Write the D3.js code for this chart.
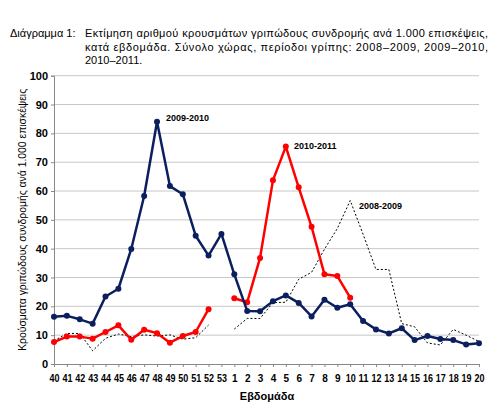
<!DOCTYPE html>
<html>
<head>
<meta charset="utf-8">
<script src="https://cdn.jsdelivr.net/npm/d3@7"></script>
<style>
  body { margin: 0; background: #fff; }
  svg { display: block; font-family: Arial, "Liberation Sans", sans-serif; }
</style>
</head>
<body>
<div id="chart"></div>
<script>
// Weeks of the flu season (40..53, then 1..20)
const weeks = ['40','41','42','43','44','45','46','47','48','49','50','51','52','53',
  '1','2','3','4','5','6','7','8','9','10','11','12','13','14','15','16','17','18','19','20'];

const season0809 = [8.0, 10.6, 10.6, 4.6, 8.9, 10.4, 9.5, 10.1, 9.7, 10.1, 8.6, 9.1, 13.5, null,
  12.1, 15.8, 15.8, 21.3, 21.4, 29.4, 31.8, 39.8, 47.0, 56.7, 45.0, 32.8, 32.8, 14.0, 12.9, 7.3, 6.6, 12.0, 10.0, 7.8];

const season0910 = [16.4, 16.7, 15.5, 14.0, 23.4, 26.1, 39.9, 58.3, 84.0, 61.7, 58.9, 44.5, 37.6, 45.1,
  31.1, 18.4, 18.3, 21.8, 23.8, 21.2, 16.5, 22.3, 19.5, 20.7, 14.9, 12.0, 10.6, 12.4, 8.3, 9.7, 8.7, 8.3, 6.8, 7.2];

const season1011 = [7.6, 9.5, 9.5, 8.8, 11.1, 13.4, 8.4, 11.9, 10.7, 7.4, 9.7, 11.1, 19.0, null,
  22.8, 21.4, 36.8, 63.7, 75.4, 61.3, 47.6, 31.1, 30.5, 23.0, null, null, null, null, null, null, null, null, null, null];

const yTicks = [0, 10, 20, 30, 40, 50, 60, 70, 80, 90, 100];

const titleLines = [
  'Εκτίμηση αριθμού κρουσμάτων γριπώδους συνδρομής ανά 1.000 επισκέψεις,',
  'κατά εβδομάδα. Σύνολο χώρας, περίοδοι γρίπης: 2008–2009, 2009–2010,',
  '2010–2011.'
];

const width = 500, height = 410;
const plotLeft = 54, plotRight = 479, plotTop = 75.7, plotBottom = 364;

const svg = d3.select('#chart').append('svg')
  .attr('width', width).attr('height', height);

// Title
svg.append('text').attr('x', 10).attr('y', 37).attr('font-size', 11).text('Διάγραμμα 1:');
titleLines.forEach((t, i) => {
  const txt = svg.append('text').attr('x', 85).attr('y', 37 + i * 13.5)
    .attr('font-size', 11).text(t);
  if (i < 2) txt.attr('textLength', 403).attr('lengthAdjust', 'spacing');
});

const x = d3.scalePoint().domain(weeks).range([plotLeft, plotRight]);
const y = d3.scaleLinear().domain([0, 100]).range([plotBottom, plotTop]);

// Gridlines
svg.append('g').selectAll('line').data(yTicks.filter(d => d > 0)).enter()
  .append('line')
  .attr('x1', plotLeft).attr('x2', plotRight)
  .attr('y1', d => y(d)).attr('y2', d => y(d))
  .attr('stroke', '#c8c8c8').attr('stroke-width', 1);

// Y axis
const yAxis = svg.append('g').attr('transform', `translate(${plotLeft},0)`)
  .call(d3.axisLeft(y).tickValues(yTicks).tickSize(3).tickPadding(3));
yAxis.select('.domain').attr('stroke', '#888');
yAxis.selectAll('.tick line').attr('stroke', '#888');
yAxis.selectAll('.tick text').attr('font-size', 11).attr('font-weight', 'bold')
  .attr('font-family', 'Arial, "Liberation Sans", sans-serif').attr('fill', '#000');

// X axis
const xAxis = svg.append('g').attr('transform', `translate(0,${plotBottom})`)
  .call(d3.axisBottom(x).tickSize(3).tickPadding(8).tickSizeOuter(0));
xAxis.select('.domain').attr('stroke', '#888');
xAxis.selectAll('.tick line').attr('stroke', '#888');
xAxis.selectAll('.tick text').attr('font-size', 10).attr('font-weight', 'bold')
  .attr('font-family', 'Arial, "Liberation Sans", sans-serif').attr('fill', '#000')
  .each(function (d) { if (d.length === 2) d3.select(this).attr('textLength', 10).attr('lengthAdjust', 'spacingAndGlyphs'); });

// Axis titles
svg.append('text').attr('x', 267).attr('y', 400).attr('text-anchor', 'middle')
  .attr('font-size', 11).attr('font-weight', 'bold').text('Εβδομάδα');
svg.append('text')
  .attr('transform', `translate(26,${(plotTop + plotBottom) / 2}) rotate(-90)`)
  .attr('text-anchor', 'middle').attr('font-size', 11)
  .attr('textLength', 262).attr('lengthAdjust', 'spacingAndGlyphs')
  .text('Κρούσματα γριπώδους συνδρομής ανά 1.000 επισκέψεις');

const line = d3.line()
  .defined(d => d.v !== null)
  .x(d => x(d.w))
  .y(d => y(d.v));

const toPts = arr => weeks.map((w, i) => ({ w, v: arr[i] }));

// 2008-2009 dotted
svg.append('path').datum(toPts(season0809))
  .attr('d', line).attr('fill', 'none')
  .attr('stroke', '#000').attr('stroke-width', 1).attr('stroke-dasharray', '2,2');

// markered series
[[season1011, '#ff0000'], [season0910, '#0b1f5f']].forEach(([arr, col]) => {
  const pts = toPts(arr);
  svg.append('path').datum(pts)
    .attr('d', line).attr('fill', 'none')
    .attr('stroke', col).attr('stroke-width', 2.5).attr('stroke-linejoin', 'round');
  svg.append('g').selectAll('circle').data(pts.filter(d => d.v !== null)).enter()
    .append('circle')
    .attr('cx', d => x(d.w)).attr('cy', d => y(d.v)).attr('r', 3)
    .attr('fill', col);
});

// Series labels
const labels = [
  { t: '2009-2010', x: 166, y: 121 },
  { t: '2010-2011', x: 294, y: 149 },
  { t: '2008-2009', x: 359, y: 209 }
];
svg.append('g').selectAll('text').data(labels).enter()
  .append('text')
  .attr('x', d => d.x).attr('y', d => d.y)
  .attr('font-size', 9).attr('font-weight', 'bold')
  .text(d => d.t);
</script>
</body>
</html>
